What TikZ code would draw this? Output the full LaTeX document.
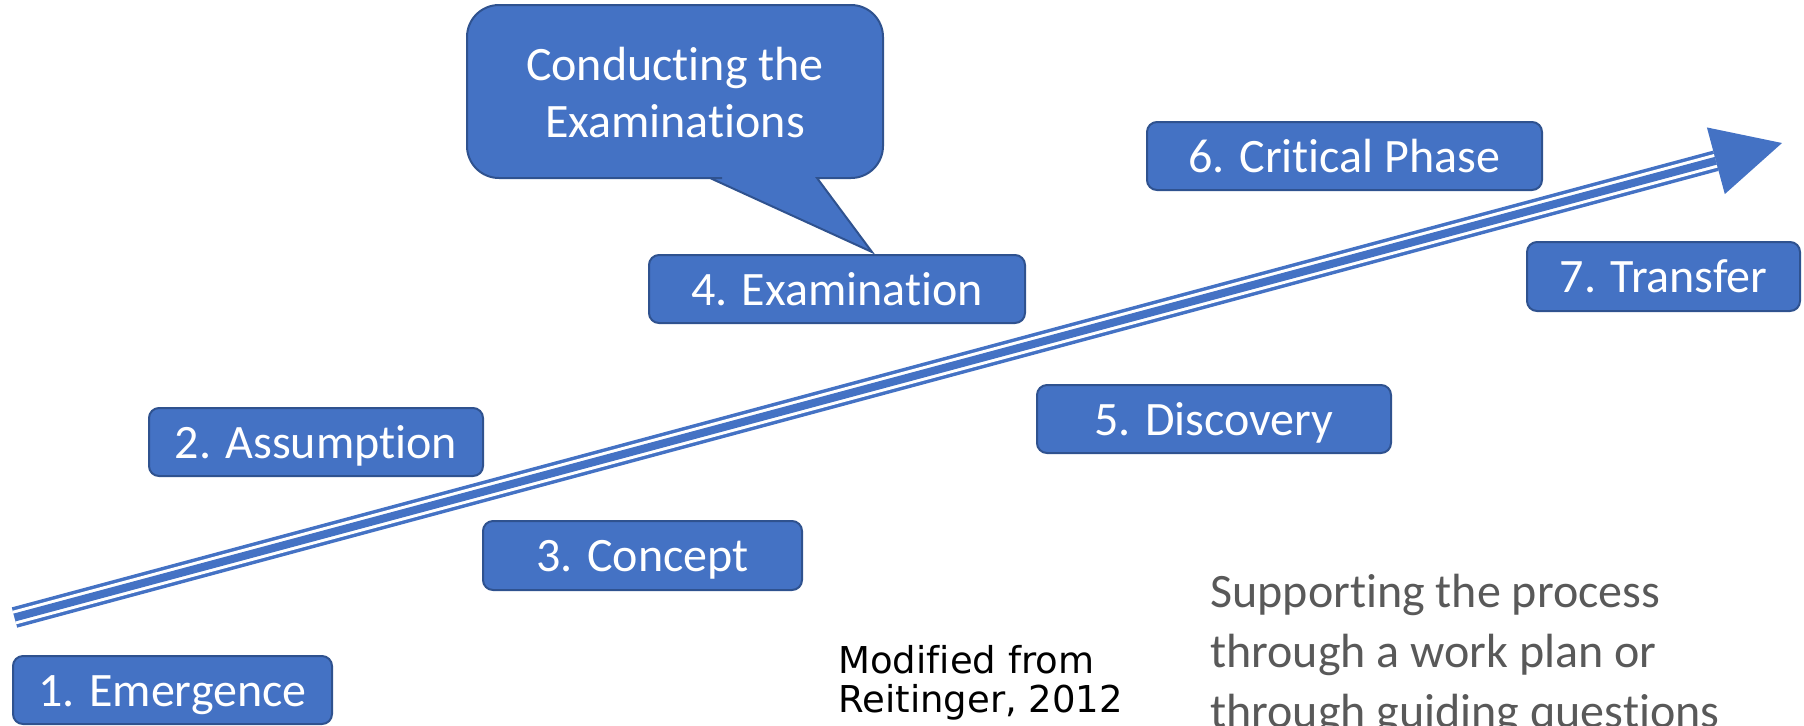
\documentclass[tikz,border=0pt]{standalone}
\usepackage{fontspec}
\setmainfont{Carlito}[Ligatures={NoCommon,NoContextual}]
\newfontfamily\verdfont{DejaVu Sans}[Ligatures={NoCommon,NoContextual}]
\usetikzlibrary{calc}
\definecolor{boxblue}{HTML}{4472C4}
\definecolor{boxedge}{HTML}{2F528F}
\definecolor{textgray}{HTML}{595959}
\tikzset{
  stage/.style={draw=boxedge, line width=1pt, fill=boxblue, rounded corners=5pt,
    text=white, font=\fontsize{24}{28.8}\selectfont, minimum height=34pt,
    inner sep=0pt, text height=17pt, text depth=1pt},
  calloutshape/.style={draw=boxedge, line width=1pt, fill=boxblue},
  shaft/.style={draw=boxblue},
}
\begin{document}
\begin{tikzpicture}[x=0.5pt,y=-0.5pt]
\useasboundingbox (0,0) rectangle (1804,725);
% progress arrow
\coordinate (tail) at (14.5,617.5);
\coordinate (tip) at (1782,143);
\coordinate (hb) at ($(tip)!34.25pt!(tail)$);
\draw[shaft, line width=10.5pt] (tail) -- (hb);
\draw[white, line width=7pt] (tail) -- (hb);
\draw[shaft, line width=4pt] (tail) -- (hb);
\fill[boxblue] (tip) -- ($(hb)!17.25pt!90:(tip)$) -- ($(hb)!17.25pt!-90:(tip)$) -- cycle;
% stages
\node[stage, minimum width=159.5pt] (s1) at (172.5,690) {1. Emergence};
\node[stage, minimum width=167pt] (s2) at (316,442) {2. Assumption};
\node[stage, minimum width=159.5pt, minimum height=34.5pt] (s3) at (642.5,555.5) {3. Concept};
\node[stage, minimum width=188pt] (s4) at (837,289) {4. Examination};
\node[stage, minimum width=177pt] (s5) at (1214,419) {5. Discovery};
\node[stage, minimum width=197.5pt] (s6) at (1344.5,156) {6. Critical Phase};
\node[stage, minimum width=136.5pt, minimum height=34.5pt] (s7) at (1663.5,276.5) {7. Transfer};
% callout
\path[calloutshape] (710,178) -- (872,252) -- (817,178) -- (830,178)
  [rounded corners=16pt] -- (883,178) -- (883,5) -- (467,5) -- (467,178) -- (690,178)
  [sharp corners] -- cycle;
\node[text=white, align=center, font=\fontsize{24}{28.5}\selectfont, inner sep=0pt] (callout) at (675,92.5) {Conducting the\\Examinations};
% notes
\node[anchor=base west, inner sep=0pt, font=\verdfont\fontsize{18.5}{19.2}\selectfont] (source) at (838,673)
  {\begin{tabular}[t]{@{}l@{}}Modified from\\Reitinger, 2012\end{tabular}};
\node[anchor=base west, inner sep=0pt, text=textgray, font=\fontsize{24}{30}\selectfont] (support) at (1210,607)
  {\begin{tabular}[t]{@{}l@{}}Supporting the process\\through a work plan or\\through guiding questions\end{tabular}};
\end{tikzpicture}
\end{document}
